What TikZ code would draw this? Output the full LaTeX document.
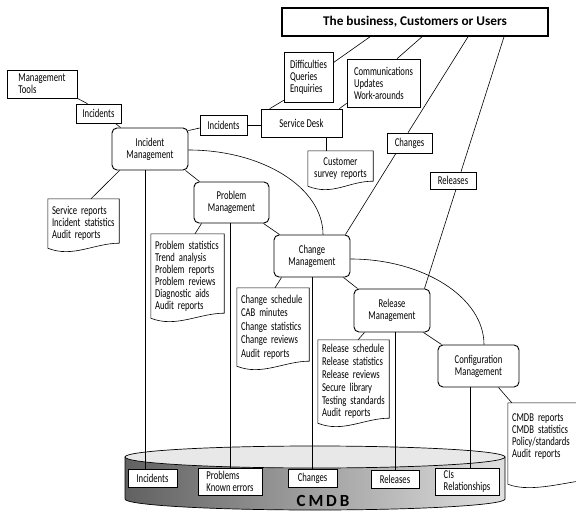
\documentclass[tikz,border=0pt]{standalone}
\usepackage{fontspec}
\setmainfont{Carlito}[FakeStretch=0.72]
\newfontfamily\widefont{Carlito}
\hyphenpenalty=10000

\tikzset{
    wire/.style={line width=0.6pt},
    topbox/.style={draw, line width=1.6pt, minimum width=266pt, minimum height=28pt, inner sep=1pt,
        font=\widefont\bfseries\fontsize{13.3}{15}\selectfont},
    itembox/.style 2 args={draw, line width=0.6pt, fill=white, minimum width=#1, minimum height=#2,
        align=left, inner sep=1pt},
    mgmtbox/.style={draw, line width=0.9pt, rounded corners=5pt, fill=white, minimum width=76pt,
        minimum height=42pt, align=center, inner sep=1pt},
    docbox/.style 2 args={text width=#1, minimum height=#2, align=left, inner xsep=4pt, inner ysep=0pt},
}
% document outline with a wavy lower edge: #1 extra depth, #2 node
\newcommand\docedge[2][0pt]{%
    \draw[wire] ([yshift=-#1]#2.south west) -- (#2.north west) -- (#2.north east)
        -- ([yshift=5pt-#1]#2.south east)
        .. controls +(-25pt,0pt) and +(25pt,-10pt) .. ([yshift=-#1]#2.south west);
}

\begin{document}
\begin{tikzpicture}[x=1pt, y=-1pt, font=\fontsize{12}{12}\selectfont]
    \useasboundingbox (0,0) rectangle (576,511);
    \clip (0,0) rectangle (576,511);

    % the CMDB drum
    \path[draw, line width=0.7pt, left color=black!62, right color=black!12]
        (125,457) -- (125,499) arc[start angle=180, end angle=360, x radius=190pt, y radius=11pt]
        -- (505,457) -- cycle;
    \draw[line width=0.7pt, fill=black!9] (315,457) ellipse[x radius=190pt, y radius=11pt];

    \node[topbox] (users) at (415,22) {The business, Customers or Users};
    \node[itembox={70pt}{28pt}] (tools) at (42,84) {Management\\Tools};
    \node[itembox={45pt}{19pt}] (incA) at (98.5,113.5) {Incidents};
    \node[mgmtbox] (incmgmt) at (150,149) {Incident\\Management};
    \node[itembox={47pt}{20pt}] (incB) at (223.5,125) {Incidents};
    \node[itembox={81pt}{28pt}, align=center] (desk) at (301.5,123) {Service Desk};
    \node[itembox={49pt}{50pt}] (queries) at (308.5,77) {Difficulties\\Queries\\Enquiries};
    \node[itembox={73pt}{48pt}] (comms) at (383.5,83) {Communications\\Updates\\Work-arounds};
    \node[docbox={57pt}{35pt}, align=center] (survey) at (340.5,168.5) {Customer\\survey reports};
    \node[itembox={45pt}{20pt}] (chgA) at (409.5,143) {Changes};
    \node[itembox={46pt}{17pt}] (relA) at (453,180.5) {Releases};

    \node[mgmtbox, minimum width=75pt, minimum height=41pt] (probmgmt) at (231.5,202.5) {Problem\\Management};
    \node[mgmtbox] (chgmgmt) at (312,256) {Change\\Management};
    \node[mgmtbox, minimum height=43pt] (relmgmt) at (392,310.5) {Release\\Management};
    \node[mgmtbox, minimum width=81pt] (cfgmgmt) at (478.5,366) {Configuration\\Management};

    \node[docbox={63pt}{49pt}] (increp) at (83.5,223.5) {Service reports\\Incident statistics\\Audit reports};
    \node[docbox={65pt}{84pt}] (probrep) at (187.5,276)
        {Problem statistics\\Trend analysis\\Problem reports\\Problem reviews\\Diagnostic aids\\Audit reports};
    \node[docbox={64pt}{78pt}, font=\fontsize{12}{13.5}\selectfont] (chgrep) at (273,327)
        {Change schedule\\CAB minutes\\Change statistics\\Change reviews\\Audit reports};
    \node[docbox={63pt}{83pt}, font=\fontsize{12}{12.9}\selectfont] (relrep) at (353.5,381.5)
        {Release schedule\\Release statistics\\Release reviews\\Secure library\\Testing standards\\Audit reports};
    \node[docbox={82pt}{67pt}] (cfgrep) at (553,436.5) {CMDB reports\\CMDB statistics\\Policy/standards\\Audit reports};

    \node[itembox={49pt}{18pt}] (dbinc) at (152.5,478) {Incidents};
    \node[itembox={64pt}{27pt}] (dbprob) at (230,481.5) {Problems\\Known errors};
    \node[itembox={49pt}{18pt}] (dbchg) at (312.5,478) {Changes};
    \node[itembox={48pt}{18pt}] (dbrel) at (395,479) {Releases};
    \node[itembox={64pt}{27pt}] (dbci) at (467,481.5) {CIs\\Relationships};
    \node[font=\widefont\bfseries\fontsize{17}{17}\selectfont] (cmdb) at (323,500.5) {C\,M\,D\,B};

    \docedge{survey}
    \docedge{increp}
    \docedge{probrep}
    \docedge{chgrep}
    \docedge{relrep}
    \docedge[14pt]{cfgrep}

    \draw[wire] (tools.south east) -- ([xshift=-11pt]incA.north);
    \draw[wire] ([xshift=-6pt]incA.south east) -- ([xshift=9pt]incmgmt.north west);
    \draw[wire] ([yshift=-3pt]incmgmt.north east) -- ([yshift=-3pt]incB.west);
    \draw[wire] (incB.east) -- (incB.east -| desk.west);
    \draw[wire] ([xshift=9pt]desk.north west) -- ([yshift=2pt]queries.south west);
    \draw[wire] ([yshift=-11pt]queries.north east) -- ([xshift=-45pt]users.south);
    \draw[wire] ([xshift=7pt]users.south) -- ([xshift=13.5pt]comms.north);
    \draw[wire] ([yshift=4pt]comms.south west) -- ([xshift=-3pt]desk.north east);
    \coordinate (svtop) at ([xshift=-14.5pt]survey.north);
    \draw[wire] (desk.south -| svtop) -- (svtop);
    \draw[wire] ([xshift=53pt]users.south) -- ([xshift=-1.5pt]chgA.north);
    \draw[wire] ([xshift=-13.5pt]chgA.south) -- ([xshift=-5pt]chgmgmt.north east);
    \draw[wire] ([xshift=89pt]users.south) -- ([xshift=8pt]relA.north);
    \draw[wire] ([xshift=3pt]relA.south) -- ([xshift=-6pt]relmgmt.north east);
    \draw[wire] ([yshift=-1pt]incmgmt.east) .. controls +(74pt,0pt) and +(0pt,47pt) .. ([xshift=11pt]chgmgmt.north);
    \draw[wire] ([yshift=-3pt]chgmgmt.east) .. controls +(73pt,0pt) and +(0pt,47pt) .. ([xshift=5.5pt]cfgmgmt.north);

    \draw[wire] ([xshift=8pt]incmgmt.south west) -- ([xshift=7.5pt]increp.north);
    \draw[wire] ([xshift=-3pt]incmgmt.south east) -- ([xshift=6pt]probmgmt.north west);
    \coordinate (inctop) at ([xshift=-5pt]incmgmt.south);
    \draw[wire] (inctop) -- (inctop |- dbinc.north);
    \draw[wire] ([xshift=8pt]probmgmt.south west) -- ([xshift=7.5pt]probrep.north);
    \draw[wire] (probmgmt.south -| dbprob.north) -- (dbprob.north);
    \draw[wire] ([xshift=-6pt]probmgmt.south east) -- ([xshift=6pt]chgmgmt.north west);
    \draw[wire] ([xshift=8pt]chgmgmt.south west) -- ([xshift=2pt]chgrep.north);
    \draw[wire] (chgmgmt.south -| dbchg.north) -- (dbchg.north);
    \draw[wire] ([xshift=-7pt]chgmgmt.south east) -- ([xshift=4pt]relmgmt.north west);
    \draw[wire] ([xshift=11pt]relmgmt.south west) -- ([xshift=4.5pt]relrep.north);
    \draw[wire] (relmgmt.south -| dbrel.north) -- (dbrel.north);
    \draw[wire] ([xshift=-7pt]relmgmt.south east) -- ([xshift=4pt]cfgmgmt.north west);
    \coordinate (citop) at ([xshift=3pt]dbci.north);
    \draw[wire] (citop |- cfgmgmt.south) -- (citop);
    \draw[wire] ([xshift=-21pt]cfgmgmt.south east) -- ([xshift=4pt]cfgrep.north west);
\end{tikzpicture}
\end{document}
